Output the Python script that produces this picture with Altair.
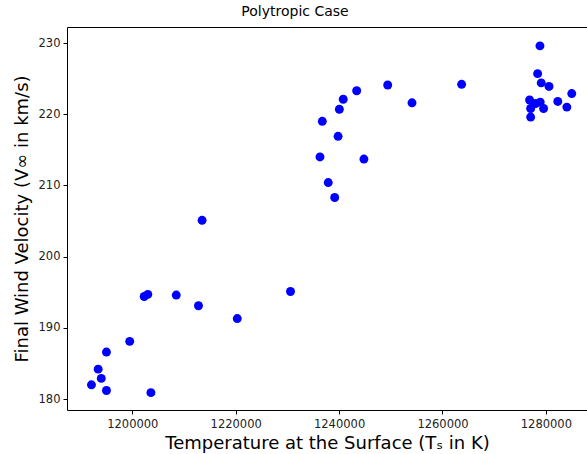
import altair as alt
import pandas as pd

# Surface temperature (K) and resulting terminal wind speed (km/s)
temperature = [
    1192100, 1193400, 1194000, 1195000, 1195000, 1199500, 1202300, 1203000,
    1203600, 1208500, 1212800, 1213500, 1220300, 1230600, 1236300, 1236750,
    1237900, 1239150, 1239800, 1240050, 1240800, 1243400, 1244800, 1249400,
    1254100, 1263700, 1278850, 1278400, 1279100, 1280600, 1285000, 1276850,
    1278900, 1277050, 1279550, 1277050, 1282300, 1284050, 1278000,
]
velocity = [
    182.0, 184.2, 182.9, 186.6, 181.2, 188.1, 194.4, 194.7,
    180.9, 194.6, 193.1, 205.1, 191.3, 195.1, 214.0, 219.0,
    210.4, 208.3, 216.9, 220.7, 222.1, 223.3, 213.7, 224.1,
    221.6, 224.2, 229.6, 225.7, 224.4, 223.9, 222.9, 222.0,
    221.7, 220.8, 220.8, 219.6, 221.8, 221.0, 221.5,
]
x_ticks = [1200000, 1220000, 1240000, 1260000, 1280000]
y_ticks = [180, 190, 200, 210, 220, 230]

df = pd.DataFrame({"T": temperature, "V": velocity})

font = "DejaVu Sans"
x_scale = alt.Scale(domain=[1187370, 1287950], nice=False, zero=False)
y_scale = alt.Scale(domain=[178.46, 232.25], nice=False, zero=False)

y_axis = alt.Axis(
    values=y_ticks, grid=False,
    title="Final Wind Velocity (V∞ in km/s)",
    titleFontSize=18, titleFontWeight="normal", titleFont=font,
    titleColor="#000", titlePadding=7,
    labelFontSize=11.5, labelFont=font, labelColor="#222", labelPadding=3,
    tickSize=4, tickColor="#000", domainColor="#000",
)

points = alt.Chart(df).mark_circle(size=80, color="#0000ff", opacity=1).encode(
    x=alt.X(
        "T:Q",
        scale=x_scale,
        axis=alt.Axis(
            values=x_ticks, format="d", grid=False, orient="bottom",
            title="Temperature at the Surface (Tₛ in K)",
            titleFontSize=18, titleFontWeight="normal", titleFont=font,
            titleColor="#000", titlePadding=5,
            labelFontSize=11.5, labelFont=font, labelColor="#222", labelPadding=4,
            tickSize=4, tickColor="#000", domainColor="#000",
        ),
    ),
    y=alt.Y("V:Q", scale=y_scale, axis=y_axis),
)

# Invisible copy that only carries the top frame line
frame_top = alt.Chart(df).mark_circle(opacity=0).encode(
    x=alt.X(
        "T:Q", scale=x_scale,
        axis=alt.Axis(orient="top", labels=False, ticks=False, title=None,
                      grid=False, domainColor="#000"),
    ),
    y=alt.Y("V:Q", scale=y_scale, axis=y_axis),
)

chart = (
    alt.layer(points, frame_top)
    .resolve_axis(x="independent")
    .properties(
        width=520,
        height=383,
        padding={"left": 67, "top": 27, "right": 0, "bottom": 44},
        autosize=alt.AutoSizeParams(type="none"),
        title=alt.TitleParams(
            "Polytropic Case", fontSize=14, font=font, fontWeight="normal",
            color="#000", dx=-32, offset=8,
        ),
    )
    .configure_view(stroke=None)
)

chart.save("out.html", embed_options={"renderer": "svg", "actions": False})
